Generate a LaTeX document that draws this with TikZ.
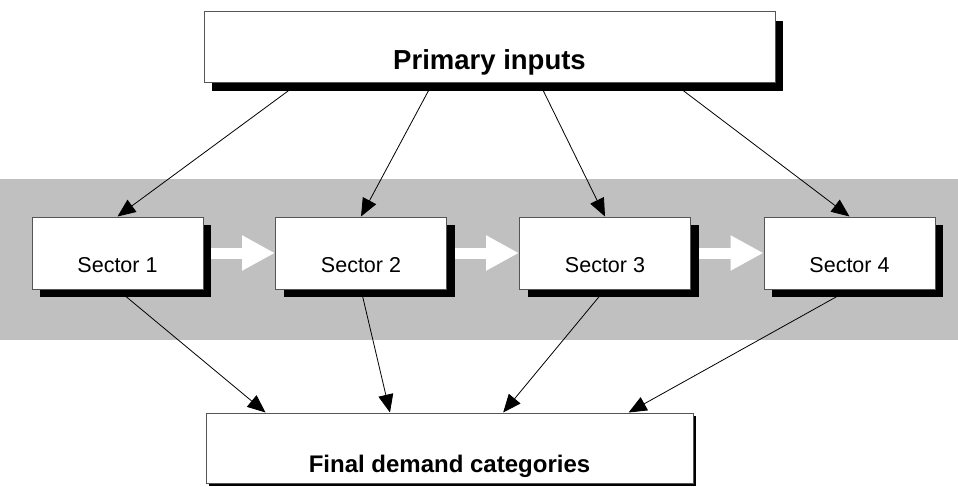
\documentclass[tikz,border=0pt]{standalone}
\usepackage{fontspec}
\setmainfont{Liberation Sans}
\usetikzlibrary{arrows.meta}
\usetikzlibrary{shadows}
\usetikzlibrary{backgrounds}
\usetikzlibrary{calc}

\definecolor{bandgray}{HTML}{C0C0C0}
\definecolor{edgegray}{HTML}{555555}

\tikzset{
    box/.style={draw=edgegray, line width=1pt, fill=white, inner sep=0pt,
        text depth=0pt},
    sectorbox/.style={box, minimum width=171pt, minimum height=72pt,
        text height=39pt, font=\fontsize{21.5}{24}\selectfont,
        drop shadow={shadow xshift=8pt, shadow yshift=-8pt, fill=black, opacity=1}},
    flow/.style={line width=0.8pt, -{Triangle[length=18pt, width=15pt]}},
    pass/.style={white, line width=11pt, -{Triangle[length=33pt, width=33pt]}}
}

\begin{document}
\begin{tikzpicture}[x=1pt, y=-1pt]
        \useasboundingbox (0, 0) rectangle (958, 487);
        \node [box, minimum width=571pt, minimum height=70pt, text height=46pt,
            font=\fontsize{27.5}{30}\bfseries,
            drop shadow={shadow xshift=8pt, shadow yshift=-9pt, fill=black, opacity=1}]
            (prim) at (489.5, 47) {Primary inputs};
        \node [box, minimum width=487pt, minimum height=70pt, text height=48pt,
            font=\fontsize{24}{28}\bfseries,
            drop shadow={shadow xshift=3pt, shadow yshift=-3pt, fill=black, opacity=1}]
            (final) at (449.5, 448) {Final demand categories};
        \foreach \k/\x in {1/117.5, 2/361, 3/605, 4/849.5}
            \node [sectorbox] (s\k) at (\x, 253) {Sector \k};
        \begin{scope}[on background layer]
            \fill [bandgray] (0, 179) rectangle (958, 340);
            \foreach \k/\j in {1/2, 2/3, 3/4}
                \draw [pass] (s\k.east) -- (s\j.west);
            \foreach \k/\f in {1/0.168, 2/0.401, 3/0.587, 4/0.82}
                \draw [flow] ($(prim.south west)!\f!(prim.south east)$) -- (s\k.north);
            \foreach \k/\f in {1/0.123, 2/0.378, 3/0.61, 4/0.867}
                \draw [flow] (s\k.south) -- ($(final.north west)!\f!(final.north east)$);
        \end{scope}
    \end{tikzpicture}
\end{document}
